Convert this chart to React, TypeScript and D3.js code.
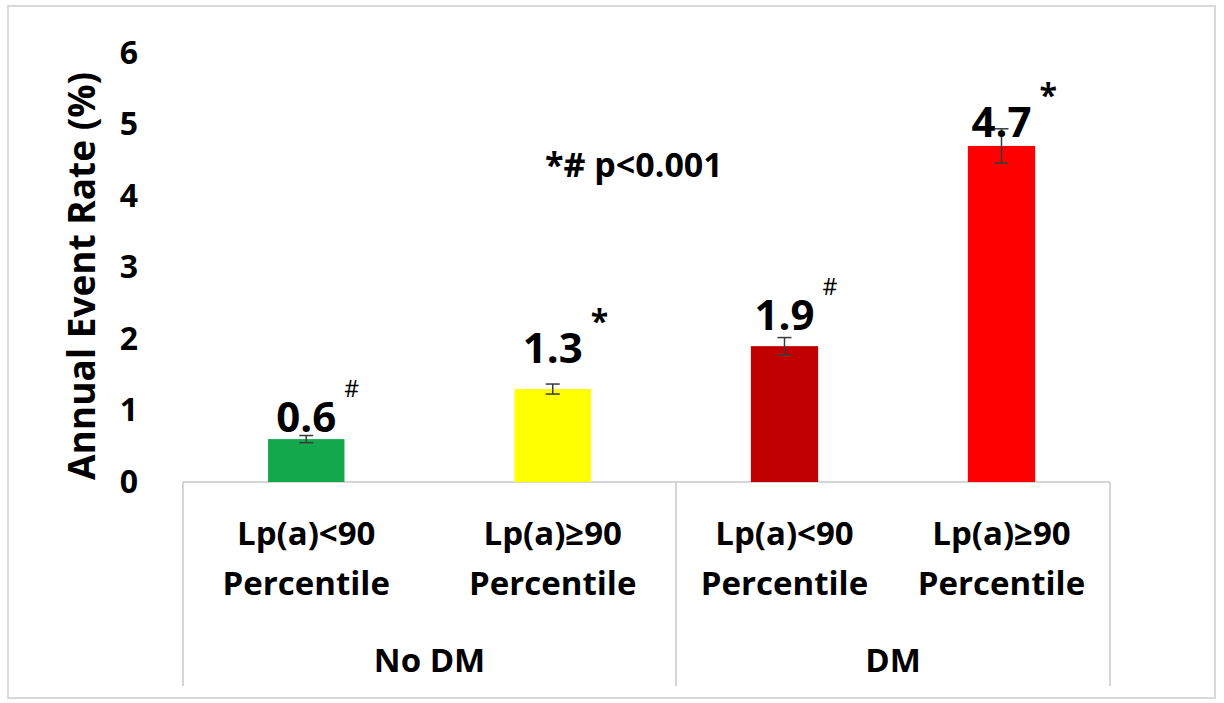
import React, { useEffect, useRef } from 'react';
import * as d3 from 'd3';

// data
const groups = ['No DM', 'DM'];
const subGroups = ['Lp(a)<90', 'Lp(a)≥90'];
const values = [0.6, 1.3, 1.9, 4.7];
const errors = [0.05, 0.07, 0.12, 0.24];
const marks = ['#', '*', '#', '*'];
const yTicks = [0, 1, 2, 3, 4, 5, 6];

const barColors = ['#12a84b', '#ffff00', '#c00000', '#ff0000'];
// how far each value label sits above its bar (px)
const labelLift = [7, 26, 16, 9];

const FONT = "'Open Sans', sans-serif";

const App = () => {
    const ref = useRef<SVGSVGElement>(null);

    useEffect(() => {
        const svg = d3.select(ref.current);
        svg.selectAll('*').remove();

        // outer frame
        svg.append('rect')
            .attr('x', 8).attr('y', 6)
            .attr('width', 1207).attr('height', 692)
            .attr('fill', '#fff')
            .attr('stroke', '#d9d9d9')
            .attr('stroke-width', 2);

        const groupEdges = [183, 676, 1110];
        const y = d3.scaleLinear().domain([0, 6]).range([482, 53]);

        const inner = groups.map((g, i) => d3.scaleBand()
            .domain(subGroups)
            .range([groupEdges[i], groupEdges[i + 1]])
            .paddingInner(0.69)
            .paddingOuter(0.345));

        const rows = values.map((v, i) => {
            const gi = Math.floor(i / 2);
            const sx = inner[gi];
            const sub = subGroups[i % 2];
            return {
                v, err: errors[i], mark: marks[i], color: barColors[i], lift: labelLift[i],
                sub, x0: sx(sub) as number, w: sx.bandwidth(),
            };
        });

        // category table lines
        const base = y(0);
        svg.append('line')
            .attr('x1', groupEdges[0]).attr('x2', groupEdges[2])
            .attr('y1', base).attr('y2', base)
            .attr('stroke', '#c8c8c8').attr('stroke-width', 1.5);
        svg.selectAll('.sep')
            .data(groupEdges)
            .enter().append('line')
            .attr('class', 'sep')
            .attr('x1', d => d).attr('x2', d => d)
            .attr('y1', base).attr('y2', 686)
            .attr('stroke', '#c8c8c8').attr('stroke-width', 1.5);

        // y axis
        const yAxis = svg.append('g')
            .attr('transform', `translate(${groupEdges[0]},0)`)
            .call(d3.axisLeft(y).tickValues(yTicks).tickFormat(d3.format('d')).tickSize(0).tickPadding(45));
        yAxis.select('.domain').remove();
        yAxis.selectAll('text')
            .attr('font-family', FONT)
            .attr('font-weight', 700)
            .attr('font-size', 32)
            .attr('fill', '#000');

        svg.append('text')
            .attr('transform', 'translate(95,276) rotate(-90)')
            .attr('text-anchor', 'middle')
            .attr('font-family', FONT)
            .attr('font-weight', 700)
            .attr('font-size', 37)
            .text('Annual Event Rate (%)');

        // bars
        svg.selectAll('.bar')
            .data(rows)
            .enter().append('rect')
            .attr('class', 'bar')
            .attr('x', d => d.x0)
            .attr('width', d => d.w)
            .attr('y', d => y(d.v))
            .attr('height', d => y(0) - y(d.v))
            .attr('fill', d => d.color);

        // error bars
        const eb = svg.selectAll('.err')
            .data(rows)
            .enter().append('g')
            .attr('class', 'err')
            .attr('stroke', '#3a3a3a')
            .attr('stroke-width', 1.5);
        eb.append('line')
            .attr('x1', d => d.x0 + d.w / 2).attr('x2', d => d.x0 + d.w / 2)
            .attr('y1', d => y(d.v + d.err)).attr('y2', d => y(d.v - d.err));
        eb.append('line')
            .attr('x1', d => d.x0 + d.w / 2 - 7).attr('x2', d => d.x0 + d.w / 2 + 7)
            .attr('y1', d => y(d.v + d.err)).attr('y2', d => y(d.v + d.err));
        eb.append('line')
            .attr('x1', d => d.x0 + d.w / 2 - 7).attr('x2', d => d.x0 + d.w / 2 + 7)
            .attr('y1', d => y(d.v - d.err)).attr('y2', d => y(d.v - d.err));

        // value labels
        svg.selectAll('.val')
            .data(rows)
            .enter().append('text')
            .attr('class', 'val')
            .attr('x', d => d.x0 + d.w / 2)
            .attr('y', d => y(d.v) - d.lift)
            .attr('text-anchor', 'middle')
            .attr('font-family', FONT)
            .attr('font-weight', 700)
            .attr('font-size', 42)
            .text(d => d3.format('.1f')(d.v));

        // superscript significance marks
        svg.selectAll('.sup')
            .data(rows)
            .enter().append('text')
            .attr('class', 'sup')
            .attr('x', d => d.x0 + d.w / 2 + 38)
            .attr('y', d => y(d.v) - d.lift - (d.mark === '#' ? 35 : 30))
            .attr('font-family', FONT)
            .attr('font-weight', d => d.mark === '#' ? 400 : 700)
            .attr('font-size', d => d.mark === '#' ? 23 : 32)
            .text(d => d.mark);

        // significance note
        svg.append('text')
            .attr('x', 545).attr('y', 177)
            .attr('font-family', FONT)
            .attr('font-weight', 700)
            .attr('font-size', 34)
            .text('*# p<0.001');

        // category labels
        const cat = svg.selectAll('.cat')
            .data(rows)
            .enter().append('text')
            .attr('class', 'cat')
            .attr('text-anchor', 'middle')
            .attr('font-family', FONT)
            .attr('font-weight', 700)
            .attr('font-size', 33);
        cat.append('tspan')
            .attr('x', d => d.x0 + d.w / 2).attr('y', 545)
            .text(d => d.sub);
        cat.append('tspan')
            .attr('x', d => d.x0 + d.w / 2).attr('y', 595)
            .text('Percentile');

        svg.selectAll('.grp')
            .data(groups)
            .enter().append('text')
            .attr('class', 'grp')
            .attr('x', (d, i) => (groupEdges[i] + groupEdges[i + 1]) / 2)
            .attr('y', 672)
            .attr('text-anchor', 'middle')
            .attr('font-family', FONT)
            .attr('font-weight', 700)
            .attr('font-size', 33)
            .text(d => d);
    }, []);

    return (
        <svg ref={ref} width={1224} height={703}
            style={{ position: 'absolute', left: 0, top: 0, background: '#fff' }} />
    );
};

export default App;
